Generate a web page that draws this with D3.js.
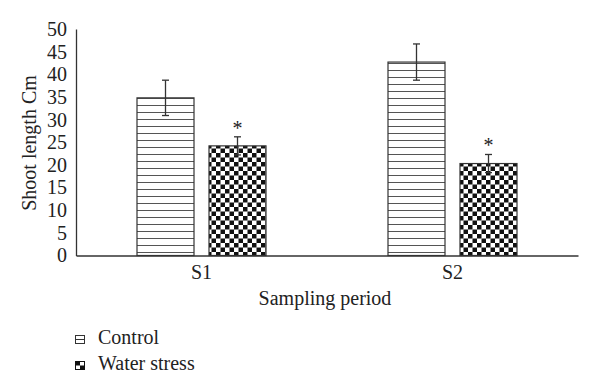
<!DOCTYPE html>
<html><head><meta charset="utf-8">
<script src="https://cdn.jsdelivr.net/npm/d3@7"></script>
<style>body{margin:0;background:#fff}svg{display:block}text{font-family:"Liberation Serif","Times New Roman",serif;fill:#222}</style>
</head><body><svg id="c" width="600" height="392"></svg>
<script>
const categories = ["S1", "S2"];
const seriesNames = ["Control", "Water stress"];
const controlValues = [34.8, 42.7];
const controlErrors = [3.9, 4.0];
const stressValues = [24.2, 20.3];
const stressErrors = [2.0, 2.0];
const significant = [true, true];
const yTicks = [0, 5, 10, 15, 20, 25, 30, 35, 40, 45, 50];
const yTitle = "Shoot length Cm";
const xTitle = "Sampling period";

(function(){
const svg = d3.select("#c");
const defs = svg.append("defs");
const ph = defs.append("pattern").attr("id","hlines").attr("patternUnits","userSpaceOnUse").attr("width",8).attr("height",7);
ph.append("rect").attr("width",8).attr("height",7).attr("fill","#fff");
ph.append("line").attr("x1",0).attr("x2",8).attr("y1",0.5).attr("y2",0.5).attr("stroke","#555").attr("stroke-width",1);
const cs = 4.5;
const pc = defs.append("pattern").attr("id","checker").attr("patternUnits","userSpaceOnUse").attr("width",cs*2).attr("height",cs*2);
pc.append("rect").attr("width",cs*2).attr("height",cs*2).attr("fill","#fff");
pc.append("rect").attr("width",cs).attr("height",cs).attr("fill","#111");
pc.append("rect").attr("x",cs).attr("y",cs).attr("width",cs).attr("height",cs).attr("fill","#111");

const mLeft = 76, mRight = 578, mTop = 29, mBottom = 255.5;
const x = d3.scaleBand().domain(categories).range([mLeft, mRight]);
const y = d3.scaleLinear().domain([0, 50]).range([mBottom, mTop]);
const bw = 57, gap = 15;

const yAxis = d3.axisLeft(y).tickValues(yTicks).tickSize(0).tickPadding(9);
const gy = svg.append("g").attr("transform",`translate(${mLeft},0)`).call(yAxis);
gy.select(".domain").attr("stroke","#333").attr("stroke-width",1.3);
gy.selectAll("text").attr("font-size",20).attr("fill","#222").attr("font-family","Liberation Serif");

const xAxis = d3.axisBottom(x).tickSize(0).tickPadding(9);
const gx = svg.append("g").attr("transform",`translate(0,${mBottom})`).call(xAxis);
gx.select(".domain").attr("stroke","#333").attr("stroke-width",1.3);
gx.selectAll("text").attr("font-size",20).attr("fill","#222").attr("font-family","Liberation Serif");

const series = [
  {vals: controlValues, errs: controlErrors, fill: "url(#hlines)", off: -(gap/2 + bw)},
  {vals: stressValues, errs: stressErrors, fill: "url(#checker)", off: gap/2}
];
series.forEach((s, si) => {
  const g = svg.append("g");
  categories.forEach((c, i) => {
    const cx = x(c) + x.bandwidth()/2 + s.off;
    g.append("rect").attr("x", cx).attr("y", y(s.vals[i])).attr("width", bw).attr("height", y(0) - y(s.vals[i]))
      .attr("fill", s.fill).attr("stroke","#333").attr("stroke-width",1.2);
    const mx = cx + bw/2;
    const hi = y(s.vals[i] + s.errs[i]), lo = y(s.vals[i] - s.errs[i]);
    g.append("line").attr("x1",mx).attr("x2",mx).attr("y1",hi).attr("y2",lo).attr("stroke","#333").attr("stroke-width",1.3);
    [hi, lo].forEach(yy => g.append("line").attr("x1",mx-3.5).attr("x2",mx+3.5).attr("y1",yy).attr("y2",yy).attr("stroke","#333").attr("stroke-width",1.3));
    if (si === 1 && significant[i]) {
      g.append("text").attr("x", mx).attr("y", hi - 2).attr("text-anchor","middle").attr("font-size",20).text("*");
    }
  });
});

svg.append("text").attr("transform",`translate(36,143) rotate(-90)`).attr("text-anchor","middle").attr("font-size",20).text(yTitle);
svg.append("text").attr("x",325).attr("y",305).attr("text-anchor","middle").attr("font-size",20).text(xTitle);

const leg = svg.append("g");
const legY = [344, 370];
seriesNames.forEach((n, i) => {
  const sy = legY[i];
  if (i === 0) {
    leg.append("rect").attr("x",75.5).attr("y",sy-8.5).attr("width",9).attr("height",8).attr("fill","#fff").attr("stroke","#333").attr("stroke-width",1);
    leg.append("line").attr("x1",75.5).attr("x2",84.5).attr("y1",sy-4.5).attr("y2",sy-4.5).attr("stroke","#333").attr("stroke-width",1);
  } else {
    leg.append("rect").attr("x",75.5).attr("y",sy-8.5).attr("width",9).attr("height",8).attr("fill","#fff").attr("stroke","#111").attr("stroke-width",1);
    leg.append("rect").attr("x",75.5).attr("y",sy-8.5).attr("width",4.5).attr("height",4).attr("fill","#111");
    leg.append("rect").attr("x",80).attr("y",sy-4.5).attr("width",4.5).attr("height",4).attr("fill","#111");
  }
  leg.append("text").attr("x",98).attr("y",sy).attr("font-size",20).text(n);
});
})();
</script></body></html>
